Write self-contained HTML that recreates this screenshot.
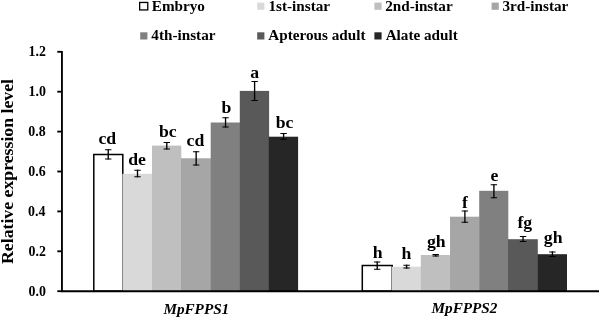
<!DOCTYPE html>
<html><head><meta charset="utf-8"><title>chart</title>
<style>
html,body{margin:0;padding:0;background:#fff;}
body{width:600px;height:318px;overflow:hidden;}
svg{display:block;}
text{font-family:"Liberation Serif","DejaVu Serif",serif;font-weight:bold;fill:#000;}
</style></head><body>
<svg width="600" height="318" viewBox="0 0 600 318">
<rect width="600" height="318" fill="#fff"/>

<rect x="93.80" y="154.50" width="29.00" height="136.70" fill="#fff" stroke="#000" stroke-width="1.5"/>
<rect x="122.40" y="173.80" width="29.90" height="117.40" fill="#d9d9d9"/>
<rect x="152.00" y="145.60" width="29.30" height="145.60" fill="#bfbfbf"/>
<rect x="181.00" y="158.30" width="30.00" height="132.90" fill="#a6a6a6"/>
<rect x="210.70" y="122.50" width="29.40" height="168.70" fill="#808080"/>
<rect x="239.80" y="90.90" width="29.30" height="200.30" fill="#595959"/>
<rect x="268.80" y="136.70" width="29.30" height="154.50" fill="#262626"/>
<path d="M108.25 149.30V159.60" stroke="#000" stroke-width="1.35" fill="none"/><path d="M105.05 149.82H111.45M105.05 159.08H111.45" stroke="#000" stroke-width="1.05" fill="none"/>
<text x="98.50" y="143.70" font-size="17.7">cd</text>
<path d="M137.50 169.70V177.30" stroke="#000" stroke-width="1.35" fill="none"/><path d="M134.30 170.22H140.70M134.30 176.78H140.70" stroke="#000" stroke-width="1.05" fill="none"/>
<text x="128.20" y="165.30" font-size="17.7">de</text>
<path d="M166.80 141.90V149.50" stroke="#000" stroke-width="1.35" fill="none"/><path d="M163.60 142.42H170.00M163.60 148.97H170.00" stroke="#000" stroke-width="1.05" fill="none"/>
<text x="158.95" y="136.70" font-size="17.7">bc</text>
<path d="M196.15 151.20V165.50" stroke="#000" stroke-width="1.35" fill="none"/><path d="M192.95 151.72H199.35M192.95 164.97H199.35" stroke="#000" stroke-width="1.05" fill="none"/>
<text x="186.60" y="145.50" font-size="17.7">cd</text>
<path d="M225.55 117.20V127.50" stroke="#000" stroke-width="1.35" fill="none"/><path d="M222.35 117.73H228.75M222.35 126.97H228.75" stroke="#000" stroke-width="1.05" fill="none"/>
<text x="221.38" y="112.80" font-size="17.7">b</text>
<path d="M254.60 80.90V101.10" stroke="#000" stroke-width="1.35" fill="none"/><path d="M251.40 81.43H257.80M251.40 100.57H257.80" stroke="#000" stroke-width="1.05" fill="none"/>
<text x="250.20" y="77.80" font-size="17.7">a</text>
<path d="M283.60 133.00V139.80" stroke="#000" stroke-width="1.35" fill="none"/><path d="M280.40 133.53H286.80M280.40 139.28H286.80" stroke="#000" stroke-width="1.05" fill="none"/>
<text x="275.65" y="127.50" font-size="17.7">bc</text>
<rect x="362.30" y="265.50" width="29.90" height="25.70" fill="#fff" stroke="#000" stroke-width="1.5"/>
<rect x="391.80" y="266.70" width="29.30" height="24.50" fill="#d9d9d9"/>
<rect x="420.80" y="255.00" width="29.50" height="36.20" fill="#bfbfbf"/>
<rect x="450.00" y="216.70" width="29.50" height="74.50" fill="#a6a6a6"/>
<rect x="479.20" y="190.80" width="29.10" height="100.40" fill="#808080"/>
<rect x="508.00" y="239.20" width="29.80" height="52.00" fill="#595959"/>
<rect x="537.50" y="254.20" width="29.50" height="37.00" fill="#262626"/>
<path d="M377.20 261.40V269.80" stroke="#000" stroke-width="1.35" fill="none"/><path d="M374.00 261.92H380.40M374.00 269.28H380.40" stroke="#000" stroke-width="1.05" fill="none"/>
<text x="372.70" y="257.50" font-size="17.7">h</text>
<path d="M406.60 264.70V268.60" stroke="#000" stroke-width="1.35" fill="none"/><path d="M403.40 265.22H409.80M403.40 268.08H409.80" stroke="#000" stroke-width="1.05" fill="none"/>
<text x="401.60" y="258.60" font-size="17.7">h</text>
<path d="M435.70 254.00V256.60" stroke="#000" stroke-width="1.35" fill="none"/><path d="M432.50 254.53H438.90M432.50 256.08H438.90" stroke="#000" stroke-width="1.05" fill="none"/>
<text x="426.90" y="246.70" font-size="17.7">gh</text>
<path d="M464.90 210.50V222.80" stroke="#000" stroke-width="1.35" fill="none"/><path d="M461.70 211.03H468.10M461.70 222.28H468.10" stroke="#000" stroke-width="1.05" fill="none"/>
<text x="461.88" y="207.50" font-size="17.7">f</text>
<path d="M493.90 184.20V198.30" stroke="#000" stroke-width="1.35" fill="none"/><path d="M490.70 184.72H497.10M490.70 197.78H497.10" stroke="#000" stroke-width="1.05" fill="none"/>
<text x="490.40" y="180.80" font-size="17.7">e</text>
<path d="M523.05 235.90V242.00" stroke="#000" stroke-width="1.35" fill="none"/><path d="M519.85 236.42H526.25M519.85 241.47H526.25" stroke="#000" stroke-width="1.05" fill="none"/>
<text x="517.42" y="228.10" font-size="17.7">fg</text>
<path d="M552.40 251.40V257.00" stroke="#000" stroke-width="1.35" fill="none"/><path d="M549.20 251.92H555.60M549.20 256.48H555.60" stroke="#000" stroke-width="1.05" fill="none"/>
<text x="543.80" y="243.30" font-size="17.7">gh</text>
<path d="M61.95 50.88V292.12M61.03 291.2H599" stroke="#000" stroke-width="1.85" fill="none"/>
<path d="M57.3 291.20H61.95" stroke="#000" stroke-width="1.85"/>
<text x="28.55" y="296.00" font-size="13.9">0.0</text>
<path d="M57.3 251.30H61.95" stroke="#000" stroke-width="1.85"/>
<text x="28.55" y="255.95" font-size="13.9">0.2</text>
<path d="M57.3 211.40H61.95" stroke="#000" stroke-width="1.85"/>
<text x="28.05" y="215.90" font-size="13.9">0.4</text>
<path d="M57.3 171.50H61.95" stroke="#000" stroke-width="1.85"/>
<text x="28.30" y="175.85" font-size="13.9">0.6</text>
<path d="M57.3 131.60H61.95" stroke="#000" stroke-width="1.85"/>
<text x="28.30" y="135.80" font-size="13.9">0.8</text>
<path d="M57.3 91.70H61.95" stroke="#000" stroke-width="1.85"/>
<text x="28.55" y="95.75" font-size="13.9">1.0</text>
<path d="M57.3 51.80H61.95" stroke="#000" stroke-width="1.85"/>
<text x="28.55" y="55.70" font-size="13.9">1.2</text>
<text transform="translate(12.9 264.00) rotate(-90)" font-size="17.76">Relative expression level</text>
<text x="163.40" y="313.5" font-size="15.2" font-style="italic">MpFPPS1</text>
<text x="431.57" y="313.0" font-size="15.2" font-style="italic">MpFPPS2</text>
<rect x="139.65" y="2.45" width="8.1" height="7.5" fill="#fff" stroke="#000" stroke-width="1.3"/>
<text x="151.75" y="10.9" font-size="15.2">Embryo</text>
<rect x="257.2" y="2.6" width="7.2" height="7.2" fill="#d9d9d9"/>
<text x="268.45" y="10.9" font-size="15.2">1st-instar</text>
<rect x="374.4" y="2.6" width="7.2" height="7.2" fill="#bfbfbf"/>
<text x="385.15" y="10.9" font-size="15.2">2nd-instar</text>
<rect x="491.6" y="2.6" width="7.2" height="7.2" fill="#a6a6a6"/>
<text x="502.50" y="10.9" font-size="15.2">3rd-instar</text>
<rect x="140.2" y="32.3" width="7.2" height="7.2" fill="#808080"/>
<text x="151.35" y="39.8" font-size="15.2">4th-instar</text>
<rect x="257.2" y="32.3" width="7.2" height="7.2" fill="#595959"/>
<text x="268.25" y="39.8" font-size="15.2">Apterous adult</text>
<rect x="374.4" y="32.3" width="7.2" height="7.2" fill="#262626"/>
<text x="385.65" y="39.8" font-size="15.2">Alate adult</text>
</svg></body></html>
